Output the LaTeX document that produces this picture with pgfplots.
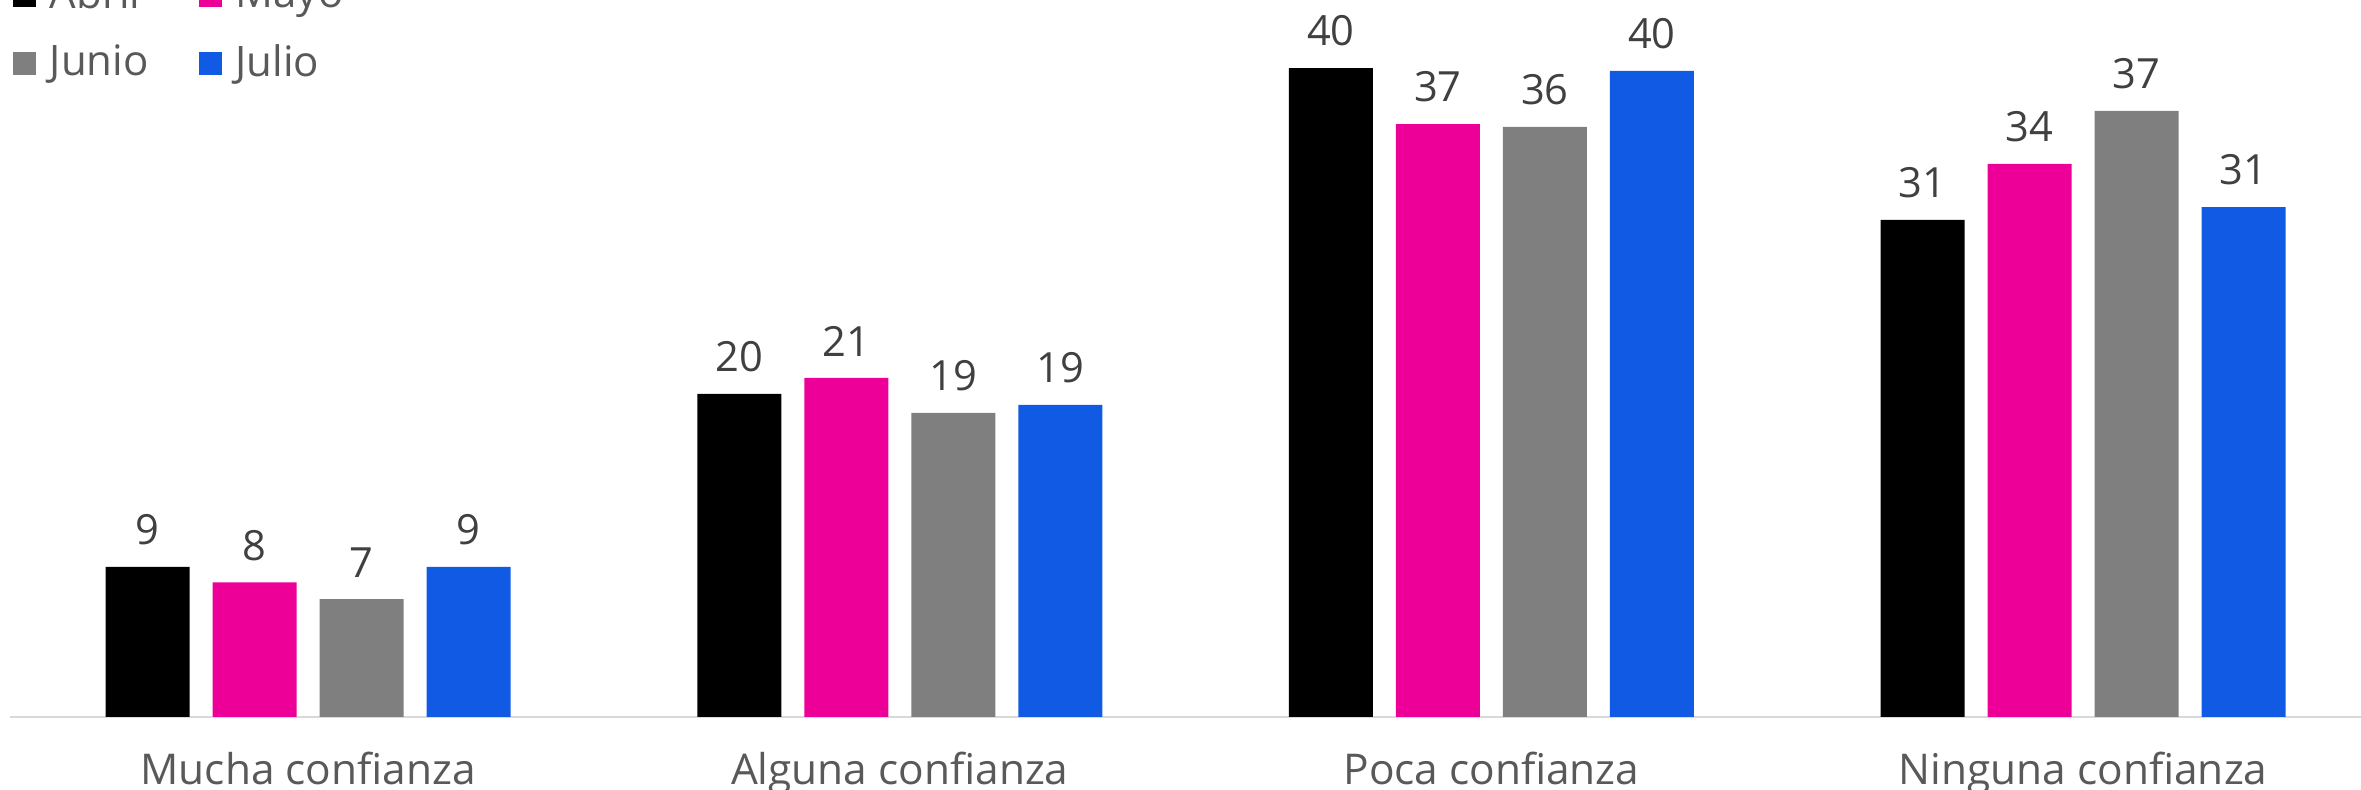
\documentclass[border=0pt]{standalone}
\usepackage{pgfplots}
\pgfplotsset{compat=1.18}
\usepackage{fontspec}
\setmainfont{Open Sans}
\definecolor{cAbril}{HTML}{000000}
\definecolor{cMayo}{HTML}{EC0098}
\definecolor{cJunio}{HTML}{7F7F7F}
\definecolor{cJulio}{HTML}{115AE3}
\definecolor{lightline}{HTML}{D9D9D9}
\definecolor{labgray}{HTML}{595959}
\definecolor{numgray}{HTML}{404040}
\begin{document}
\begin{tikzpicture}
\begin{axis}[
  scale only axis, width=587.6pt, height=178.2pt,
  xmin=-0.503, xmax=3.4695, ymin=0, ymax=44,
  axis x line=bottom, axis y line=none,
  axis line style={-, draw=lightline, line width=0.6pt},
  /pgf/number format/assume math mode=true,
  xtick={0,1,2,3},
  xticklabels={Mucha confianza, Alguna confianza, Poca confianza, Ninguna confianza},
  major tick length=0pt,
  xticklabel style={anchor=base, yshift=-17pt, text=labgray, font=\fontsize{10.6}{12}\selectfont},
  ybar, bar width=21pt,
  nodes near coords={\pgfmathprintnumber[fixed,precision=0,assume math mode=true]{\pgfplotspointmeta}},
  every node near coord/.append style={inner sep=0pt, yshift=5.25pt, text=numgray, font=\fontsize{10.4}{12}\selectfont},
  legend columns=2, legend cell align=left,
  legend image code/.code={\fill[#1] (0pt,-2.875pt) rectangle (5.75pt,2.875pt);},
  legend style={draw=none, fill=none, inner sep=0pt,
    at={(axis description cs:0.00064,0.8895)}, anchor=south west,
    font=\fontsize{10.5}{12}\selectfont, text=labgray,
    nodes={inner sep=0pt}, row sep=7.5pt,
    /tikz/every odd column/.append style={column sep=3.5pt},
    /tikz/every even column/.append style={column sep=12.5pt}},
]
\addplot[fill=cAbril, draw=none, bar shift=-40.125pt] coordinates {(0,9.26) (1,19.94) (2,40.06) (3,30.68)};
\addplot[fill=cMayo, draw=none, bar shift=-13.375pt] coordinates {(0,8.31) (1,20.93) (2,36.60) (3,34.14)};
\addplot[fill=cJunio, draw=none, bar shift=13.375pt] coordinates {(0,7.28) (1,18.77) (2,36.42) (3,37.41)};
\addplot[fill=cJulio, draw=none, bar shift=40.125pt] coordinates {(0,9.26) (1,19.26) (2,39.88) (3,31.48)};
\legend{Abril, Mayo, Junio, Julio}
\end{axis}
\pgfresetboundingbox
\path[use as bounding box] (-2.625pt,-18.25pt) rectangle (587.625pt,179.25pt);
\end{tikzpicture}
\end{document}
